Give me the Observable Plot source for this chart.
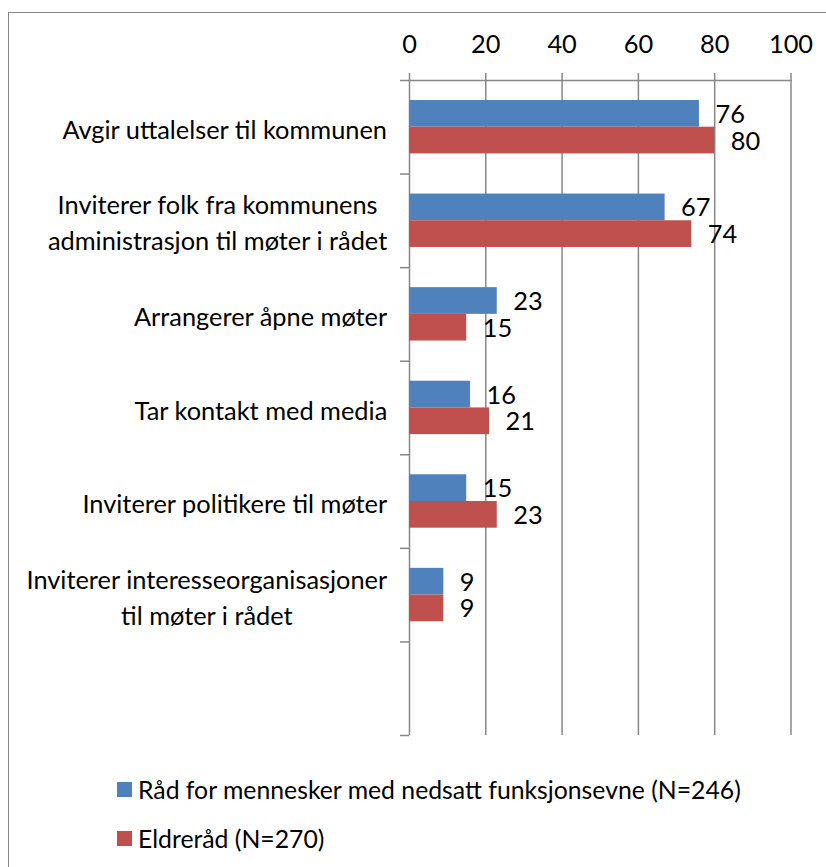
<!DOCTYPE html>
<html><head><meta charset="utf-8">
<script src="https://cdn.jsdelivr.net/npm/d3@7"></script>
<script src="https://cdn.jsdelivr.net/npm/@observablehq/plot@0.6"></script>
<style>
html,body{margin:0;padding:0;background:#fff;overflow:hidden;width:826px;height:867px}
#frame{position:absolute;left:8px;top:12px;width:900px;height:900px;border:1.5px solid #888;box-sizing:border-box}
#chart{position:absolute;left:0;top:0}
.leg{position:absolute;left:117px;display:flex;align-items:center;font-family:Lato,sans-serif;color:#000;white-space:nowrap;height:30px}
.sw{width:15px;height:15px;margin-right:6px;flex:none}
</style></head><body>
<div id="frame"></div>
<div id="chart"></div>
<div id="legend"></div>
<script>
const categories = [
  "Avgir uttalelser til kommunen",
  "Inviterer folk fra kommunens\nadministrasjon til møter i rådet",
  "Arrangerer åpne møter",
  "Tar kontakt med media",
  "Inviterer politikere til møter",
  "Inviterer interesseorganisasjoner\ntil møter i rådet",
  ""
];
const rfmValues = [76, 67, 23, 16, 15, 9];
const eldreValues = [80, 74, 15, 21, 23, 9];
const seriesNames = ["Råd for mennesker med nedsatt funksjonsevne (N=246)", "Eldreråd (N=270)"];
const seriesColors = ["#4F81BD", "#C0504D"];
const xTicks = [0, 20, 40, 60, 80, 100];

const rfmRows = rfmValues.map((v, i) => ({cat: categories[i], v}));
const eldreRows = eldreValues.map((v, i) => ({cat: categories[i], v}));

const ctx = document.createElement("canvas").getContext("2d");
function tw(text, size) { ctx.font = `${size}px Lato`; return ctx.measureText(text).width; }
const labelFs = 24 * 340 / tw("administrasjon til møter i rådet", 24);
const numFs = labelFs;
const legendFs = 24 * 604 / tw(seriesNames[0], 24);

const W = 826, H = 760, mt = 80, mb = 25, ml = 409, mr = 35.5;
const bw = (H - mt - mb) / categories.length;
const gridColor = "#888888";
const gw = 1.5;
const barTop = 20, barH = 26.7;

const labelMarks = categories.filter(c => c !== "").map(c => {
  const maxW = d3.max(c.split("\n"), l => tw(l, labelFs));
  return Plot.text([c], {x: 0, y: d => d, text: d => d, textAnchor: "middle", lineAnchor: "middle",
    lineHeight: 1.42, dx: -(22 + maxW / 2), fontSize: labelFs, fill: "#000"});
});

const chart = Plot.plot({
  width: W, height: H,
  marginTop: mt, marginBottom: mb, marginLeft: ml, marginRight: mr,
  style: {fontFamily: "Lato, sans-serif", fontSize: numFs + "px", color: "#000", background: "transparent"},
  x: {domain: [0, 100], axis: null},
  y: {domain: categories, padding: 0, round: false, axis: null},
  marks: [
    Plot.gridX({ticks: xTicks, stroke: gridColor, strokeOpacity: 1, strokeWidth: gw}),
    Plot.axisX({anchor: "top", ticks: xTicks, tickSize: 8, tickPadding: 20, stroke: gridColor, strokeWidth: gw,
      fontSize: numFs, label: null, tickFormat: d => String(d), fill: "#000"}),
    Plot.ruleY([categories[0]], {dy: -bw / 2, stroke: gridColor, strokeWidth: gw}),
    Plot.ruleY(categories, {x1: 0, x2: 0, insetLeft: -9, dy: -bw / 2, stroke: gridColor, strokeWidth: gw}),
    Plot.ruleY([categories[categories.length - 1]], {x1: 0, x2: 0, insetLeft: -9, dy: bw / 2, stroke: gridColor, strokeWidth: gw}),
    Plot.barX(rfmRows, {x: "v", y: "cat", fill: seriesColors[0], insetTop: barTop, insetBottom: bw - barTop - barH}),
    Plot.barX(eldreRows, {x: "v", y: "cat", fill: seriesColors[1], insetTop: barTop + barH, insetBottom: bw - barTop - 2 * barH}),
    Plot.text(rfmRows, {x: "v", y: "cat", text: d => String(d.v), dx: 16, dy: -12.5, textAnchor: "start", fontSize: numFs, fill: "#000"}),
    Plot.text(eldreRows, {x: "v", y: "cat", text: d => String(d.v), dx: 16, dy: 14.2, textAnchor: "start", fontSize: numFs, fill: "#000"}),
    ...labelMarks
  ]
});
document.getElementById("chart").appendChild(chart);

const legend = document.getElementById("legend");
const legendTops = [774, 823];
seriesNames.forEach((name, i) => {
  const d = document.createElement("div");
  d.className = "leg";
  d.style.top = legendTops[i] + "px";
  d.style.fontSize = legendFs + "px";
  d.innerHTML = `<span class="sw" style="background:${seriesColors[i]}"></span><span>${name}</span>`;
  legend.appendChild(d);
});
</script>
</body></html>
